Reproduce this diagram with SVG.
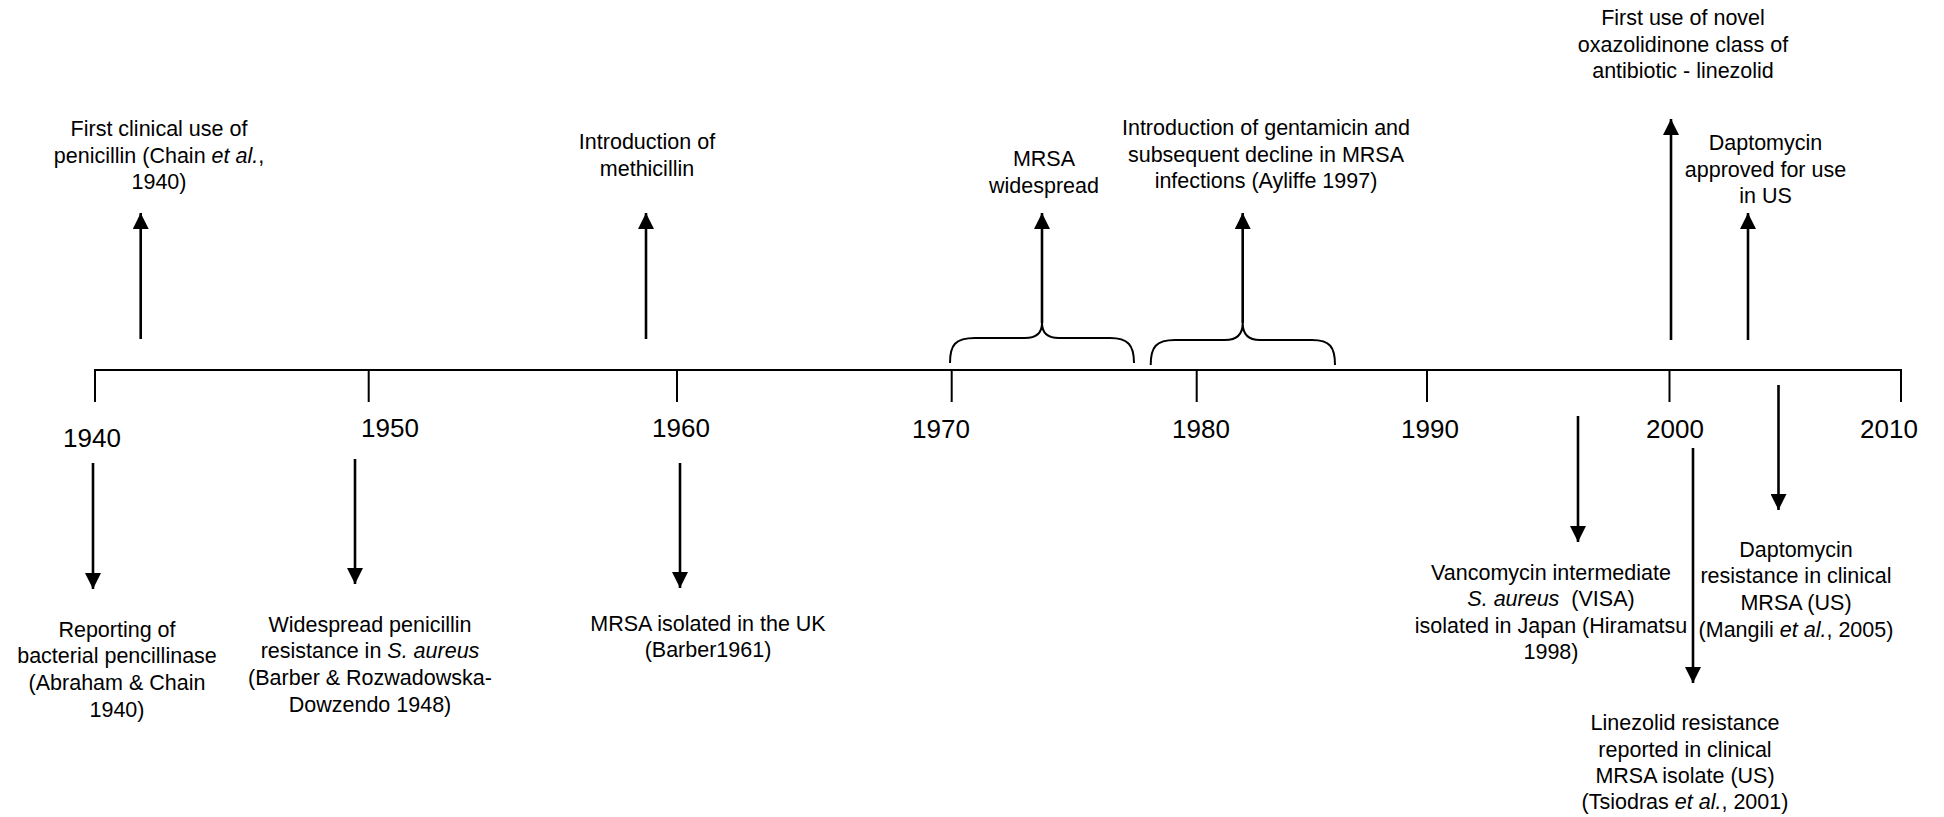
<svg xmlns="http://www.w3.org/2000/svg" width="1944" height="817" viewBox="0 0 1944 817">
<style>
  .t { font-family: "Liberation Sans", Arial, sans-serif; font-size: 21.5px; fill: #000; text-anchor: middle; }
  .yr { font-family: "Liberation Sans", Arial, sans-serif; font-size: 26px; fill: #000; text-anchor: middle; }
  .i { font-style: italic; }
  .ax { fill: none; stroke: #000; stroke-width: 2; }
  .ar { fill: none; stroke: #000; stroke-width: 2.6; marker-end: url(#ah); }
  .br { fill: none; stroke: #000; stroke-width: 2; }
</style>
<defs>
  <marker id="ah" viewBox="0 0 16 16" refX="16" refY="8" markerWidth="16" markerHeight="16" markerUnits="userSpaceOnUse" orient="auto">
    <path d="M0,0 L16,8 L0,16 z" fill="#000"/>
  </marker>
</defs>
<rect width="1944" height="817" fill="#fff"/>

<g id="axis">
  <path class="ax" d="M95,402 V370 H1901 V402"/>
  <path class="ax" d="M368.7,370 V402 M677,370 V402 M951.7,370 V402 M1196.7,370 V402 M1427,370 V402 M1669.5,370 V402"/>
</g>

<g id="years">
  <g id="y1940"><text class="yr" x="92" y="447">1940</text></g>
  <g id="y1950"><text class="yr" x="390" y="437">1950</text></g>
  <g id="y1960"><text class="yr" x="681" y="437">1960</text></g>
  <g id="y1970"><text class="yr" x="941" y="437.5">1970</text></g>
  <g id="y1980"><text class="yr" x="1201" y="437.5">1980</text></g>
  <g id="y1990"><text class="yr" x="1430" y="437.5">1990</text></g>
  <g id="y2000"><text class="yr" x="1675" y="437.5">2000</text></g>
  <g id="y2010"><text class="yr" x="1889" y="437.5">2010</text></g>
</g>

<g id="connectors">
  <path class="br" d="M950,363 C950,345 955,338 975,338 L1025,338 C1038,338 1042,332 1042,323 C1042,332 1046,338 1059,338 L1110,338 C1128,338 1134,345 1134,363"/>
  <path class="br" d="M1150.7,365 C1150.7,347 1156,340 1175,340 L1225,340 C1238,340 1242.7,333 1242.7,323 C1242.7,333 1247,340 1260,340 L1312,340 C1330,340 1335,347 1335,365"/>
  <line class="ar" x1="140.7" y1="339" x2="140.7" y2="213"/>
  <line class="ar" x1="646" y1="339" x2="646" y2="213"/>
  <line class="ar" x1="1042" y1="323" x2="1042" y2="213"/>
  <line class="ar" x1="1242.7" y1="323" x2="1242.7" y2="213"/>
  <line class="ar" x1="1671" y1="340" x2="1671" y2="119"/>
  <line class="ar" x1="1748" y1="340" x2="1748" y2="213"/>
  <line class="ar" x1="93" y1="463" x2="93" y2="589"/>
  <line class="ar" x1="355" y1="459" x2="355" y2="584"/>
  <line class="ar" x1="680" y1="463" x2="680" y2="588"/>
  <line class="ar" x1="1578" y1="416" x2="1578" y2="542"/>
  <line class="ar" x1="1693" y1="448" x2="1693" y2="683"/>
  <line class="ar" x1="1778.5" y1="385" x2="1778.5" y2="510"/>
</g>

<g id="penicillin">
  <text class="t"><tspan x="159" y="136">First clinical use of</tspan><tspan x="159" y="162.5">penicillin (Chain <tspan class="i">et al.</tspan>,</tspan><tspan x="159" y="189">1940)</tspan></text>
</g>
<g id="methicillin">
  <text class="t"><tspan x="647" y="149">Introduction of</tspan><tspan x="647" y="176">methicillin</tspan></text>
</g>
<g id="mrsa-widespread">
  <text class="t"><tspan x="1044" y="166">MRSA</tspan><tspan x="1044" y="192.5">widespread</tspan></text>
</g>
<g id="gentamicin">
  <text class="t"><tspan x="1266" y="135">Introduction of gentamicin and</tspan><tspan x="1266" y="161.5">subsequent decline in MRSA</tspan><tspan x="1266" y="188">infections (Ayliffe 1997)</tspan></text>
</g>
<g id="linezolid">
  <text class="t"><tspan x="1683" y="25">First use of novel</tspan><tspan x="1683" y="51.5">oxazolidinone class of</tspan><tspan x="1683" y="78">antibiotic - linezolid</tspan></text>
</g>
<g id="daptomycin">
  <text class="t"><tspan x="1765.5" y="150">Daptomycin</tspan><tspan x="1765.5" y="176.5">approved for use</tspan><tspan x="1765.5" y="203">in US</tspan></text>
</g>
<g id="pencillinase">
  <text class="t"><tspan x="117" y="636.5">Reporting of</tspan><tspan x="117" y="663">bacterial pencillinase</tspan><tspan x="117" y="690">(Abraham &amp; Chain</tspan><tspan x="117" y="716.5">1940)</tspan></text>
</g>
<g id="pen-resistance">
  <text class="t"><tspan x="370" y="631.5">Widespread penicillin</tspan><tspan x="370" y="658">resistance in <tspan class="i">S. aureus</tspan></tspan><tspan x="370" y="685">(Barber &amp; Rozwadowska-</tspan><tspan x="370" y="711.5">Dowzendo 1948)</tspan></text>
</g>
<g id="mrsa-uk">
  <text class="t"><tspan x="708" y="631">MRSA isolated in the UK</tspan><tspan x="708" y="657">(Barber1961)</tspan></text>
</g>
<g id="visa">
  <text class="t" xml:space="preserve"><tspan x="1551" y="580">Vancomycin intermediate</tspan><tspan x="1551" y="606"><tspan class="i">S. aureus</tspan>  (VISA)</tspan><tspan x="1551" y="632.5">isolated in Japan (Hiramatsu</tspan><tspan x="1551" y="659">1998)</tspan></text>
</g>
<g id="dapto-resistance">
  <text class="t"><tspan x="1796" y="556.5">Daptomycin</tspan><tspan x="1796" y="583">resistance in clinical</tspan><tspan x="1796" y="610">MRSA (US)</tspan><tspan x="1796" y="636.5">(Mangili <tspan class="i">et al.</tspan>, 2005)</tspan></text>
</g>
<g id="linezolid-resistance">
  <text class="t"><tspan x="1685" y="730">Linezolid resistance</tspan><tspan x="1685" y="756.5">reported in clinical</tspan><tspan x="1685" y="782.5">MRSA isolate (US)</tspan><tspan x="1685" y="809">(Tsiodras <tspan class="i">et al.</tspan>, 2001)</tspan></text>
</g>
</svg>
